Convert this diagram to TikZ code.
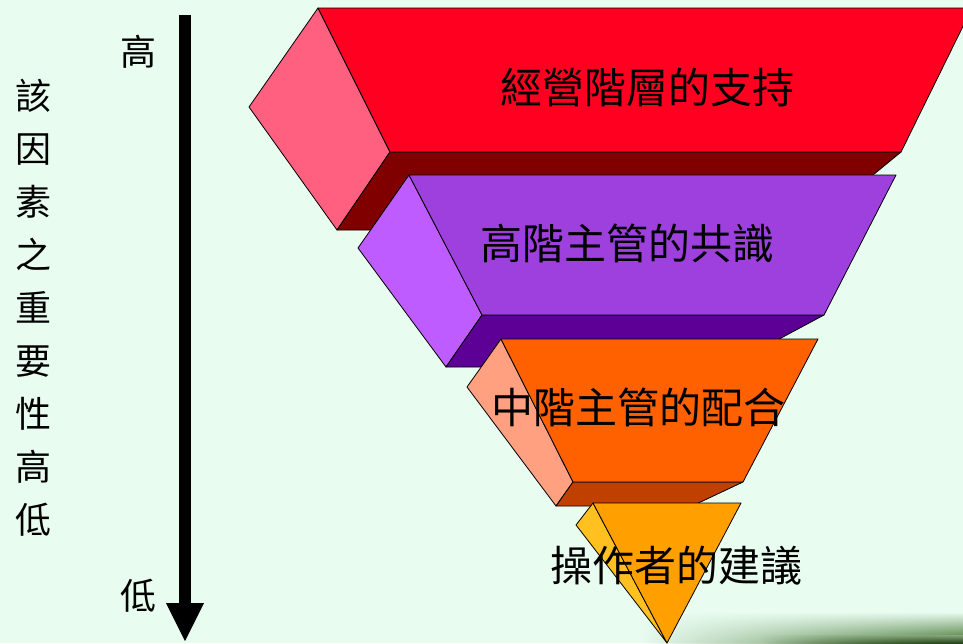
\documentclass[tikz,border=0pt]{standalone}
\usepackage{fontspec}
\newfontfamily\cjk{Noto Sans CJK TC}
\definecolor{MintBg}{RGB}{232,252,240}
\definecolor{GrassGreen}{RGB}{60,110,40}
\definecolor{TopFront}{RGB}{255,0,33}
\definecolor{TopSide}{RGB}{255,96,128}
\definecolor{TopBase}{RGB}{128,0,0}
\definecolor{SecFront}{RGB}{158,64,222}
\definecolor{SecSide}{RGB}{190,92,255}
\definecolor{SecBase}{RGB}{92,0,150}
\definecolor{MidFront}{RGB}{255,96,0}
\definecolor{MidSide}{RGB}{255,160,128}
\definecolor{MidBase}{RGB}{192,64,0}
\definecolor{LowFront}{RGB}{255,160,0}
\definecolor{LowSide}{RGB}{255,192,32}
\usetikzlibrary{arrows.meta,positioning,fadings}

\begin{document}
\begin{tikzpicture}[x=1pt,y=-1pt,
    face/.style={draw=black, line width=0.8pt, line join=round},
    lbl/.style={font=\cjk\fontsize{42}{50}\selectfont, inner sep=0pt},
    side/.style={font=\cjk\fontsize{36}{53}\selectfont, inner sep=0pt}]
  % background
  \fill[MintBg] (0,0) rectangle (963,643);
  \useasboundingbox (0,0) rectangle (963,643);
  \clip (0,0) rectangle (963,643);
  \shade[top color=MintBg, bottom color=GrassGreen, path fading=west] (640,612) rectangle (963,643);
  \shade[top color=GrassGreen!60, bottom color=GrassGreen!60!black, path fading=west] (760,635) rectangle (963,643);

  % top layer
  \filldraw[face, fill=TopSide] (318,8) -- (249,107) -- (337,230) -- (390,152) -- cycle;
  \filldraw[face, fill=TopBase] (390,152) -- (901,152) -- (806,230) -- (337,230) -- cycle;
  \filldraw[face, fill=TopFront] (318,8) -- (972,8) -- (901,152) -- (390,152) -- cycle;
  \node[lbl] (mgmt) at (647,87) {經營階層的支持};

  % second layer
  \filldraw[face, fill=SecSide] (409,175) -- (358,248) -- (446,367) -- (482,315) -- cycle;
  \filldraw[face, fill=SecBase] (482,315) -- (824,315) -- (727,367) -- (446,367) -- cycle;
  \filldraw[face, fill=SecFront] (409,175) -- (896,175) -- (824,315) -- (482,315) -- cycle;
  \node[lbl] (senior) at (627,243) {高階主管的共識};

  % third layer
  \filldraw[face, fill=MidSide] (501,339) -- (467,387) -- (556,506) -- (573,482) -- cycle;
  \filldraw[face, fill=MidBase] (573,482) -- (743,482) -- (692,506) -- (556,506) -- cycle;
  \filldraw[face, fill=MidFront] (501,339) -- (818,339) -- (743,482) -- (573,482) -- cycle;
  \node[lbl] (middle) at (638,407) {中階主管的配合};

  % bottom layer
  \filldraw[face, fill=LowSide] (593,503) -- (576,525) -- (667,643) -- cycle;
  \filldraw[face, fill=LowFront] (593,503) -- (741,503) -- (667,643) -- cycle;
  \node[lbl] (staff) at (676,566) {操作者的建議};

  % importance scale
  \coordinate (atop) at (185,15);
  \coordinate (abot) at (185,641);
  \draw[line width=12.5pt, -{Triangle[width=38pt,length=38pt,line width=0pt]}] (atop) -- (abot);
  \node[side] (hi) at (138,52) {高};
  \node[side] (lo) at (138,596) {低};
  \node[side, align=center] (factor) at (33,308) {該\\因\\素\\之\\重\\要\\性\\高\\低};
\end{tikzpicture}
\end{document}
